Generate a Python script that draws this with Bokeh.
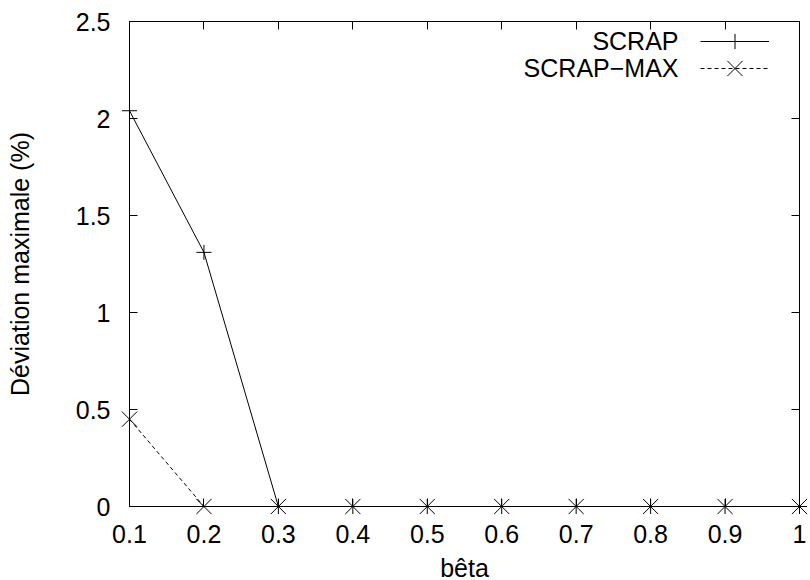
from bokeh.plotting import figure
from bokeh.models import (ColumnDataSource, FixedTicker, LinearAxis, Legend,
                          LegendItem, Label, Range1d)
from bokeh.embed import file_html
from bokeh.resources import INLINE

# ---- data ----
beta = [0.1, 0.2, 0.3, 0.4, 0.5, 0.6, 0.7, 0.8, 0.9, 1.0]
scrap = [2.04, 1.31, 0, 0, 0, 0, 0, 0, 0, 0]
scrap_max = [0.45, 0, 0, 0, 0, 0, 0, 0, 0, 0]
x_ticks = [0.1, 0.2, 0.3, 0.4, 0.5, 0.6, 0.7, 0.8, 0.9, 1.0]
x_tick_labels = ["0.1", "0.2", "0.3", "0.4", "0.5", "0.6", "0.7", "0.8", "0.9", "1"]
y_ticks = [0, 0.5, 1, 1.5, 2, 2.5]
y_tick_labels = ["0", "0.5", "1", "1.5", "2", "2.5"]
series_names = ["SCRAP", "SCRAP\u2212MAX"]
x_title = "bêta"
y_title = "Déviation maximale (%)"

FONT = "Liberation Sans"
FS = "25px"

x0, x1 = x_ticks[0], x_ticks[-1]
y0, y1 = y_ticks[0], y_ticks[-1]
# the frame fills the whole canvas; the plot box sits inside it (margins in data units)
pad_l, pad_r = 0.17328, 0.01209
pad_t, pad_b = 0.10825, 0.38144

src = ColumnDataSource(dict(beta=beta, scrap=scrap, scrap_max=scrap_max))

p = figure(width=808, height=580, output_backend="svg", toolbar_location=None,
           x_range=Range1d(x0 - pad_l, x1 + pad_r),
           y_range=Range1d(y0 - pad_b, y1 + pad_t),
           min_border_left=0, min_border_right=0, min_border_top=0,
           min_border_bottom=0, background_fill_color="white",
           border_fill_color="white")
p.xgrid.visible = False
p.ygrid.visible = False
p.outline_line_color = None


def style_axis(ax, ticks, labels, show_labels=True):
    ax.ticker = FixedTicker(ticks=ticks)
    ax.major_tick_in = 8
    ax.major_tick_out = 0
    ax.minor_tick_line_color = None
    ax.major_tick_line_color = "black"
    ax.axis_line_color = "black"
    ax.major_label_text_font = FONT
    ax.major_label_text_color = "black"
    ax.major_label_text_font_size = FS
    ax.axis_label_text_font = FONT
    ax.axis_label_text_font_style = "normal"
    ax.axis_label_text_color = "black"
    ax.axis_label_text_font_size = FS
    if show_labels:
        ax.major_label_overrides = {t: l for t, l in zip(ticks, labels)}
    else:
        ax.major_label_overrides = {t: "" for t in ticks}


xa = p.xaxis[0]
style_axis(xa, x_ticks, x_tick_labels)
xa.fixed_location = y0
xa.bounds = (x0, x1)
xa.major_label_standoff = 18
xa.axis_label = x_title
xa.axis_label_standoff = 8

ya = p.yaxis[0]
style_axis(ya, y_ticks, y_tick_labels)
ya.fixed_location = x0
ya.bounds = (y0, y1)
ya.major_label_standoff = 19
ya.axis_label = y_title
ya.axis_label_standoff = 39

top = LinearAxis(fixed_location=y1, bounds=(x0, x1))
style_axis(top, x_ticks, x_tick_labels, show_labels=False)
p.add_layout(top, "above")
right = LinearAxis(fixed_location=x1, bounds=(y0, y1))
style_axis(right, y_ticks, y_tick_labels, show_labels=False)
p.add_layout(right, "right")

l1 = p.line("beta", "scrap", source=src, line_color="black", line_width=1)
m1 = p.scatter("beta", "scrap", source=src, marker="cross", size=15,
               line_color="black", line_width=1)
l2 = p.line("beta", "scrap_max", source=src, line_color="black", line_width=1,
            line_dash="4 3")
m2 = p.scatter("beta", "scrap_max", source=src, marker="x", size=21.5,
               line_color="black", line_width=1)

common = dict(orientation="vertical", glyph_width=69, label_standoff=0,
              spacing=0, padding=0, margin=0, border_line_color=None,
              background_fill_alpha=0, label_width=0)
leg1 = Legend(items=[LegendItem(label="", renderers=[l1, m1])],
              location=(700, 520), glyph_height=38, label_height=38, **common)
leg2 = Legend(items=[LegendItem(label="", renderers=[l2, m2])],
              location=(700, 485), glyph_height=54, label_height=54, **common)
p.add_layout(leg1, "center")
p.add_layout(leg2, "center")

lab_y = [2.397, 2.258]
for name, yy in zip(series_names, lab_y):
    p.add_layout(Label(x=0.8375, y=yy, text=name, text_align="right",
                       text_baseline="middle", text_font=FONT,
                       text_font_size=FS, text_color="black"))

open("out.html", "w").write(file_html(p, INLINE))
